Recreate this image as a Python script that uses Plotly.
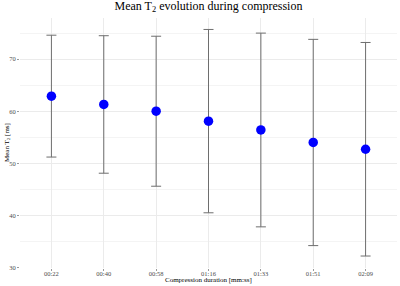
import plotly.graph_objects as go

durations = ["00:22", "00:40", "00:58", "01:16", "01:33", "01:51", "02:09"]
mean_t2 = [62.9, 61.3, 60.0, 58.1, 56.4, 54.0, 52.7]
sd_t2 = [11.7, 13.2, 14.4, 17.6, 18.6, 19.8, 20.5]
y_ticks = [30, 40, 50, 60, 70]

SERIF = "Liberation Serif, Times New Roman, serif"
W, H = 400, 286
L, R, T, B = 20, 3, 18, 18

fig = go.Figure()
fig.add_trace(go.Scatter(
    x=list(range(len(durations))),
    y=mean_t2,
    mode="markers",
    marker=dict(color="#0000ff", size=9.5),
    error_y=dict(type="data", array=sd_t2, symmetric=True,
                 color="#6e6e6e", thickness=1, width=5),
    showlegend=False,
))

cx = (L + (W - R)) / 2 / W
fig.update_layout(
    width=W, height=H,
    margin=dict(l=L, r=R, t=T, b=B, autoexpand=False),
    paper_bgcolor="white", plot_bgcolor="white",
    font=dict(family=SERIF, color="black"),
    title=dict(text="Mean T<sub>2</sub> evolution during compression",
               x=cx, xanchor="center", y=1 - 1.5 / H, yanchor="top",
               font=dict(size=12, family=SERIF, color="black")),
    annotations=[
        dict(text="Compression duration [mm:ss]", xref="paper", yref="paper",
             x=0.5, y=0, yshift=-B + 0.5, xanchor="center", yanchor="bottom",
             showarrow=False, font=dict(size=7, family=SERIF, color="black")),
        dict(text="Mean T<sub>2</sub> [ms]", xref="paper", yref="paper",
             x=0, xshift=-L + 1, y=0.5, xanchor="left", yanchor="middle",
             textangle=-90, showarrow=False,
             font=dict(size=7, family=SERIF, color="black")),
    ],
)
fig.update_xaxes(
    range=[-0.6, 6.6], automargin=False,
    tickmode="array", tickvals=list(range(len(durations))), ticktext=durations,
    showgrid=True, gridcolor="#ebebeb", gridwidth=1,
    zeroline=False, showline=False,
    ticks="outside", ticklen=2, tickcolor="#999999",
    ticklabelstandoff=-3,
    tickfont=dict(size=6.5, color="#4d4d4d", family=SERIF),
)
fig.update_yaxes(
    range=[29.9, 77.9], automargin=False,
    tickmode="array", tickvals=y_ticks,
    showgrid=True, gridcolor="#ebebeb", gridwidth=1,
    minor=dict(tickvals=[35, 45, 55, 65, 75], showgrid=True, gridcolor="#f4f4f4", gridwidth=1),
    zeroline=False, showline=False,
    ticks="outside", ticklen=2, tickcolor="#999999",
    tickfont=dict(size=6.5, color="#4d4d4d", family=SERIF),
)

fig.write_html("out.html", config={"displayModeBar": False},
               post_script="document.body.style.margin='0';document.body.style.overflow='hidden';")
